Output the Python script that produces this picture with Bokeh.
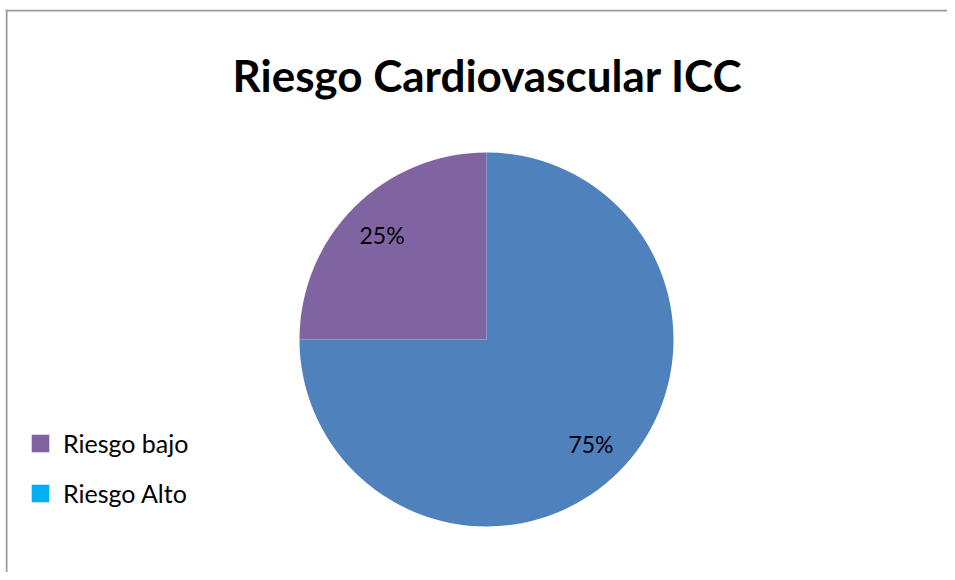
import numpy as np
from bokeh.plotting import figure
from bokeh.models import ColumnDataSource, Range1d, Label, Legend, LegendItem, Span
from bokeh.core.properties import value
from bokeh.embed import file_html
from bokeh.resources import INLINE

# ---- data ----
title_text = "Riesgo Cardiovascular ICC"
categories = ["Riesgo bajo", "Riesgo Alto"]
shares = [25, 75]
slice_colors = ["#8064A2", "#4F81BD"]
legend_colors = ["#8064A2", "#00B0F0"]

# ---- layout constants ----
W, H = 947, 572
FL, FT = 5, 9          # frame offsets (left/top) for the border
FONT = "Lato"
cx, cy, r = 486, H - 339, 187

frac = np.array(shares, dtype=float) / sum(shares)
start = np.pi / 2 + np.concatenate([[0], np.cumsum(frac)[:-1]]) * 2 * np.pi
end = np.pi / 2 + np.cumsum(frac) * 2 * np.pi
mid = (start + end) / 2
label_r = 0.79 * r

src = ColumnDataSource(dict(
    cat=categories,
    start=start,
    end=end,
    color=slice_colors,
    lx=cx + label_r * np.cos(mid),
    ly=cy + label_r * np.sin(mid),
    lbl=[f"{s}%" for s in shares],
    x=[cx] * len(shares),
    y=[cy] * len(shares),
))

p = figure(width=W, height=H, output_backend="svg", toolbar_location=None,
           x_range=Range1d(FL, W), y_range=Range1d(0, H - FT),
           min_border=0, min_border_left=FL, min_border_top=FT,
           min_border_right=0, min_border_bottom=0, tools="")
p.xaxis.visible = False
p.yaxis.visible = False
p.grid.visible = False
p.background_fill_color = "white"
p.border_fill_color = "white"
p.outline_line_color = None

# chart border: only left and top edges are visible in the reference
p.add_layout(Span(location=FL + 1, dimension="height", line_color="#9A9A9A", line_width=2))
p.add_layout(Span(location=H - FT - 1, dimension="width", line_color="#9A9A9A", line_width=2))

p.wedge(x="x", y="y", radius=r, radius_units="screen", start_angle="start",
        end_angle="end", fill_color="color", line_color=None, source=src)

p.text(x="lx", y="ly", text="lbl", source=src, text_font=value(FONT),
       text_font_size="23px", text_align="center", text_baseline="middle",
       text_color="black")

title = Label(x=487, y=H - 74, text=title_text,
              text_font=FONT, text_font_size="44px", text_font_style="bold",
              text_align="center", text_baseline="alphabetic", text_color="black")
p.add_layout(title)

items = []
for cat, col in zip(categories, legend_colors):
    rr = p.quad(left=[np.nan], right=[np.nan], top=[np.nan], bottom=[np.nan],
                fill_color=col, line_color=None)
    items.append(LegendItem(label=cat, renderers=[rr]))

legend = Legend(items=items, location=(24, 64), orientation="vertical",
                glyph_width=22, glyph_height=22, label_height=18, spacing=20,
                label_standoff=12, padding=0, margin=0,
                label_text_font=FONT, label_text_font_size="25px",
                label_text_color="black", border_line_color=None,
                background_fill_alpha=0)
p.add_layout(legend, "center")

open("out.html", "w").write(file_html(p, INLINE))
